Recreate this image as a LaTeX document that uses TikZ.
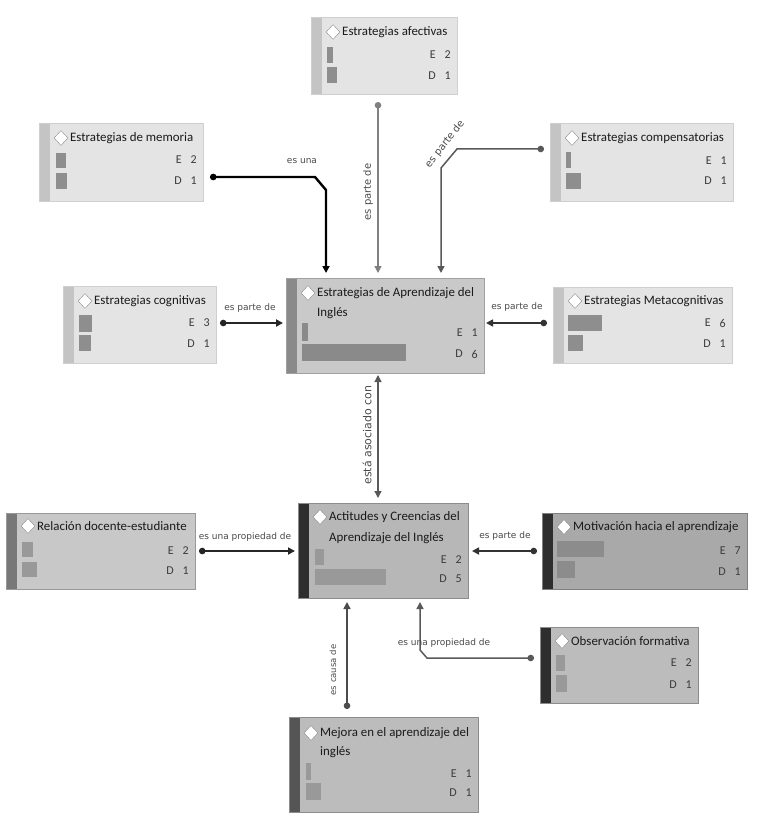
\documentclass[tikz,border=0pt]{standalone}
\usepackage{fontspec}
\setmainfont{Carlito}
\newfontfamily\lblfont{DejaVu Sans}
\usetikzlibrary{arrows.meta,shapes.geometric,calc}

\definecolor{lfill}{HTML}{E4E4E4}
\definecolor{lstrip}{HTML}{C4C4C4}
\definecolor{lborder}{HTML}{CFCFCF}
\definecolor{lbar}{HTML}{8E8E8E}
\definecolor{cfill}{HTML}{C9C9C9}
\definecolor{cstrip}{HTML}{8A8A8A}
\definecolor{cborder}{HTML}{A0A0A0}
\definecolor{dbar}{HTML}{999999}
\definecolor{afill}{HTML}{B7B7B7}
\definecolor{dstrip}{HTML}{2E2E2E}
\definecolor{rfill}{HTML}{C8C8C8}
\definecolor{rstrip}{HTML}{787878}
\definecolor{mfill}{HTML}{A9A9A9}
\definecolor{mbar}{HTML}{8C8C8C}
\definecolor{ofill}{HTML}{BCBCBC}
\definecolor{mjstrip}{HTML}{555555}
\definecolor{txt}{HTML}{1A1A1A}
\definecolor{lbltxt}{HTML}{4A4A4A}

\tikzset{
  dmd/.style={diamond, draw=black!45, fill=white, inner sep=0pt, minimum width=14pt, minimum height=15pt},
  ttl/.style={font=\fontsize{12.9}{14}\selectfont, text=txt, inner sep=0pt, anchor=west},
  cnt/.style={font=\fontsize{12}{14}\selectfont, text=txt!85, inner sep=0pt, anchor=east},
  lbl/.style={font=\lblfont\fontsize{9}{11}\selectfont, text=lbltxt, inner sep=0pt},
  conn/.style={line width=1.6pt, draw=#1, -{Triangle[length=7pt,width=7pt]}},
  dconn/.style={conn=#1, {Circle[length=6.5pt]}-{Triangle[length=7pt,width=7pt]}},
}

% name, x1, y1, x2, y2, fill, strip, border
\newcommand\ebox[8]{%
  \node[draw=#8, line width=1pt, fill=#6, inner sep=0pt, outer sep=0pt,
        minimum width={#4pt-#2pt}, minimum height={#5pt-#3pt}, anchor=north west] (#1) at (#2,#3) {};
  \fill[#7] (#2+0.5,#3+0.5) rectangle (#2+10.5,#5-0.5);
}
% name, x1, y, text
\newcommand\etitle[4]{%
  \node[dmd] (#1d) at (#2+22,#3) {};
  \node[ttl] (#1t) at (#2+31,#3) {#4};
}
% name, x2, yE, yD, Eval, Dval
\newcommand\ecount[6]{%
  \node[cnt] (#1e) at (#2-21,#3) {E};
  \node[cnt] (#1ev) at (#2-6,#3) {#5};
  \node[cnt] (#1dd) at (#2-21,#4) {D};
  \node[cnt] (#1dv) at (#2-6,#4) {#6};
}

\begin{document}
\begin{tikzpicture}[x=1pt,y=-1pt]
\useasboundingbox (0,0) rectangle (756,826);
\fill[white] (0,0) rectangle (756,826);

% ---------- Estrategias afectivas
\ebox{afe}{311}{18}{457}{95}{lfill}{lstrip}{lborder}
\etitle{afe}{311}{32}{Estrategias afectivas}
\fill[lbar] (327,47) rectangle (333,63);
\fill[lbar] (327,67) rectangle (337,83);
\ecount{afe}{457}{55}{76}{2}{1}

% ---------- Estrategias de memoria
\ebox{mem}{39}{124}{203}{202}{lfill}{lstrip}{lborder}
\etitle{mem}{39}{138}{Estrategias de memoria}
\fill[lbar] (56,153) rectangle (66,168);
\fill[lbar] (56,173) rectangle (67,189);
\ecount{mem}{203}{160}{181}{2}{1}

% ---------- Estrategias compensatorias
\ebox{comp}{550}{124}{733}{202}{lfill}{lstrip}{lborder}
\etitle{comp}{550}{138}{Estrategias compensatorias}
\fill[lbar] (566,152) rectangle (571,168);
\fill[lbar] (566,173) rectangle (581,189);
\ecount{comp}{733}{161}{181}{1}{1}

% ---------- Estrategias cognitivas
\ebox{cog}{63}{286}{216}{363}{lfill}{lstrip}{lborder}
\etitle{cog}{63}{301}{Estrategias cognitivas}
\fill[lbar] (79,315) rectangle (92,332);
\fill[lbar] (79,335) rectangle (91,351);
\ecount{cog}{216}{323}{344}{3}{1}

% ---------- Estrategias Metacognitivas
\ebox{meta}{553}{287}{732}{363}{lfill}{lstrip}{lborder}
\etitle{meta}{553}{301}{Estrategias Metacognitivas}
\fill[lbar] (568,315) rectangle (602,331);
\fill[lbar] (568,335) rectangle (583,351);
\ecount{meta}{732}{323}{344}{6}{1}

% ---------- Estrategias de Aprendizaje del Inglés
\ebox{ea}{286}{278}{484}{373}{cfill}{cstrip}{cborder}
\etitle{ea}{286}{293}{Estrategias de Aprendizaje del}
\node[ttl] (eat2) at (317,313) {Inglés};
\fill[dbar!90!black] (302,323) rectangle (308,341);
\fill[dbar!90!black] (302,344) rectangle (406,361);
\ecount{ea}{484}{333}{354}{1}{6}

% ---------- Actitudes y Creencias
\ebox{act}{298}{503}{468}{598}{afill}{dstrip}{black!45}
\etitle{act}{298}{517}{Actitudes y Creencias del}
\node[ttl] (actt2) at (329,538) {Aprendizaje del Inglés};
\fill[dbar] (315,549) rectangle (324,565);
\fill[dbar] (315,569) rectangle (386,585);
\ecount{act}{468}{560}{579}{2}{5}

% ---------- Relación docente-estudiante
\ebox{rel}{6}{513}{195}{589}{rfill}{rstrip}{black!40}
\etitle{rel}{6}{526}{Relación docente-estudiante}
\fill[dbar] (22,542) rectangle (33,557);
\fill[dbar] (22,562) rectangle (37,577);
\ecount{rel}{195}{551}{571}{2}{1}

% ---------- Motivación hacia el aprendizaje
\ebox{mot}{542}{513}{747}{589}{mfill}{dstrip}{black!50}
\etitle{mot}{542}{527}{Motivación hacia el aprendizaje}
\fill[mbar] (557,541) rectangle (604,557);
\fill[mbar] (557,561) rectangle (575,578);
\ecount{mot}{747}{551}{572}{7}{1}

% ---------- Observación formativa
\ebox{obs}{540}{627}{698}{703}{ofill}{dstrip}{black!45}
\etitle{obs}{540}{641}{Observación formativa}
\fill[dbar] (556,655) rectangle (565,671);
\fill[dbar] (556,675) rectangle (567,692);
\ecount{obs}{698}{663}{685}{2}{1}

% ---------- Mejora en el aprendizaje del inglés
\ebox{mej}{289}{717}{478}{812}{ofill}{mjstrip}{black!45}
\etitle{mej}{289}{733}{Mejora en el aprendizaje del}
\node[ttl] (mejt2) at (320,752) {inglés};
\fill[dbar] (306,763) rectangle (311,780);
\fill[dbar] (306,783) rectangle (321,800);
\ecount{mej}{478}{774}{793}{1}{1}

% ---------- connectors
\draw[dconn=black, line width=2.4pt] ($(mem.north east)+(7,53)$) -- ++(105,0) -- ++(11,13) -- ($(ea.north west)+(40,-5)$);
\draw[dconn=black!50, line width=1.3pt] ($(afe.south west)+(67,7)$) -- ($(ea.north west)+(92,-5)$);
\draw[dconn=black!65, line width=1.5pt] ($(comp.north west)+(-6,25)$) -- ++(-87,0) -- ++(-16,19) -- ($(ea.north west)+(155,-5)$);
\draw[dconn=black!85, line width=1.8pt] ($(cog.north east)+(4,37)$) -- ($(ea.north west)+(-3,45)$);
\draw[dconn=black!80, line width=1.6pt] ($(meta.north west)+(-6,36)$) -- ($(ea.north east)+(2,45)$);
\draw[conn=black!65, line width=1.3pt, {Triangle[length=7pt,width=7pt]}-{Triangle[length=7pt,width=7pt]}] ($(ea.south west)+(92,2)$) -- ($(act.north west)+(80,-5)$);
\draw[dconn=black!85, line width=1.8pt] ($(rel.north east)+(4,38)$) -- ($(act.north west)+(-3,48)$);
\draw[dconn=black!80, line width=1.6pt] ($(mot.north west)+(-5,38)$) -- ($(act.north east)+(4,48)$);
\draw[dconn=black!65, line width=1.5pt] ($(obs.north west)+(-6,31)$) -- ++(-107,0) -- ++(-7,-8) -- ($(act.south west)+(122,4)$);
\draw[dconn=black!70, line width=1.5pt] ($(mej.north west)+(58,-8)$) -- ($(act.south west)+(49,4)$);

% ---------- connector labels
\node[lbl] (l1) at (302,161) {es una};
\node[lbl, rotate=90, font=\lblfont\fontsize{10}{12}\selectfont] (l2) at (368,192) {es parte de};
\node[lbl, rotate=52, font=\lblfont\fontsize{10}{12}\selectfont] (l3) at (445,144) {es parte de};
\node[lbl] (l4) at (250,308) {es parte de};
\node[lbl] (l5) at (517,307) {es parte de};
\node[lbl, rotate=90, font=\lblfont\fontsize{11}{13}\selectfont] (l6) at (367,435) {está asociado con};
\node[lbl] (l7) at (245,537) {es una propiedad de};
\node[lbl] (l8) at (505,536) {es parte de};
\node[lbl] (l9) at (444,643) {es una propiedad de};
\node[lbl, rotate=90, font=\lblfont\fontsize{8.5}{10}\selectfont] (l10) at (333,670) {es causa de};
\end{tikzpicture}
\end{document}
